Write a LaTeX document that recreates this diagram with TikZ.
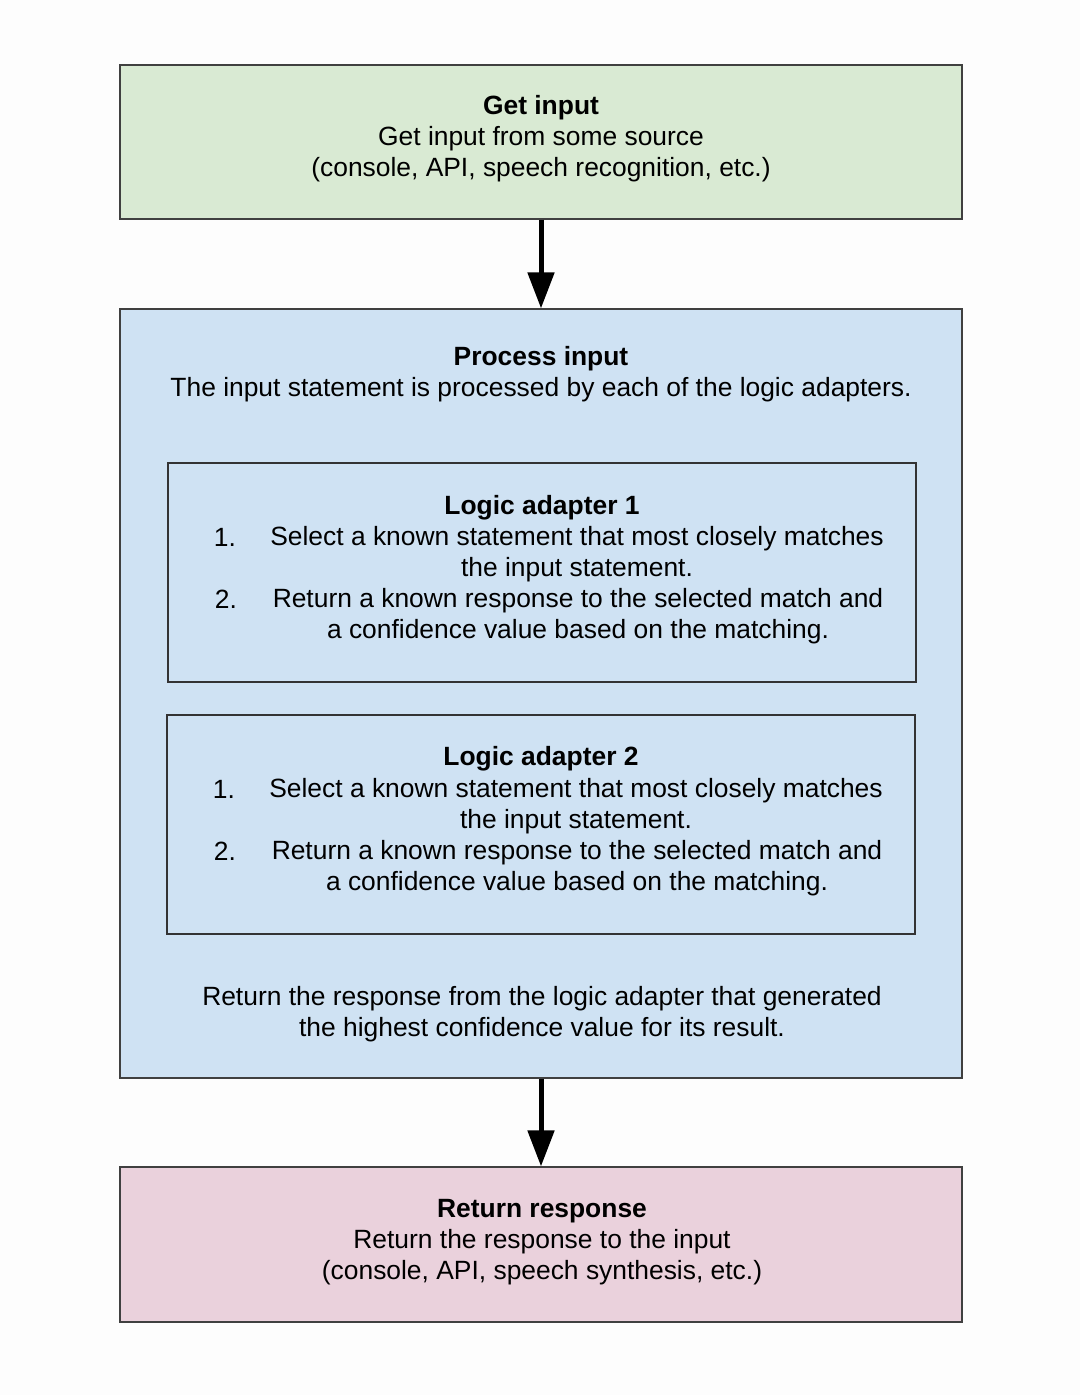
\documentclass[tikz,border=0pt]{standalone}
\usepackage{fontspec}
\setmainfont{Liberation Sans}
\usetikzlibrary{positioning, arrows.meta}
\definecolor{gruen}{RGB}{217,234,211}
\definecolor{blau}{RGB}{207,226,243}
\definecolor{rosa}{RGB}{234,209,220}
\definecolor{papier}{RGB}{253,253,253}
\tikzset{kasten/.style={rectangle,draw=black!75,line width=0.6pt,minimum width=421pt,inner sep=0},
	adapter/.style={rectangle,draw=black!80,line width=0.6pt,minimum width=374pt,minimum height=109.5pt,inner sep=0},
	zeilen/.style={align=center,font=\fontsize{13.2}{15.5}\selectfont,inner sep=0},
	nummer/.style={font=\fontsize{13.2}{15.5}\selectfont,inner sep=0},
	pfeil/.style={line width=2.5pt,-{Triangle[width=13pt,length=18pt]}} }

\begin{document}
\begin{tikzpicture}[x=0.5pt,y=-0.5pt]
  \fill [papier] (0,0) rectangle (1080,1395);
  \useasboundingbox (0,0) rectangle (1080,1395);

  % Eingabe
  \node (ein) [kasten, fill=gruen, minimum height=77pt] at (541,142) {};
  \node (eintext) [zeilen] at (541,139) {\textbf{Get input}\\Get input from some source\\(console, API, speech recognition, etc.)};

  % Verarbeitung
  \node (proz) [kasten, fill=blau, minimum height=384.5pt] at (541,693.5) {};
  \node (proztext) [zeilen] at (541,374) {\textbf{Process input}\\The input statement is processed by each of the logic adapters.};

  \node (la1) [adapter] at (542,572.5) {};
  \node (la1titel) [zeilen] at (542,508) {\textbf{Logic adapter 1}};
  \node (la1n1) [nummer] at (225,537) {1.};
  \node (la1p1) [zeilen] at (577,554.5) {Select a known statement that most closely matches\\the input statement.};
  \node (la1n2) [nummer] at (226,599) {2.};
  \node (la1p2) [zeilen] at (578,616.5) {Return a known response to the selected match and\\a confidence value based on the matching.};

  \node (la2) [adapter] at (541,824.5) {};
  \node (la2titel) [zeilen] at (541,759) {\textbf{Logic adapter 2}};
  \node (la2n1) [nummer] at (224,789) {1.};
  \node (la2p1) [zeilen] at (576,806.5) {Select a known statement that most closely matches\\the input statement.};
  \node (la2n2) [nummer] at (225,851) {2.};
  \node (la2p2) [zeilen] at (577,868.5) {Return a known response to the selected match and\\a confidence value based on the matching.};

  \node (wahl) [zeilen] at (542,1014.5) {Return the response from the logic adapter that generated\\the highest confidence value for its result.};

  % Ausgabe
  \node (aus) [kasten, fill=rosa, minimum height=77.5pt] at (541,1244.5) {};
  \node (austext) [zeilen] at (542,1242) {\textbf{Return response}\\Return the response to the input\\(console, API, speech synthesis, etc.)};

  \draw [pfeil] (ein) -- (proz);
  \draw [pfeil] (proz) -- (aus);
\end{tikzpicture}
\end{document}
